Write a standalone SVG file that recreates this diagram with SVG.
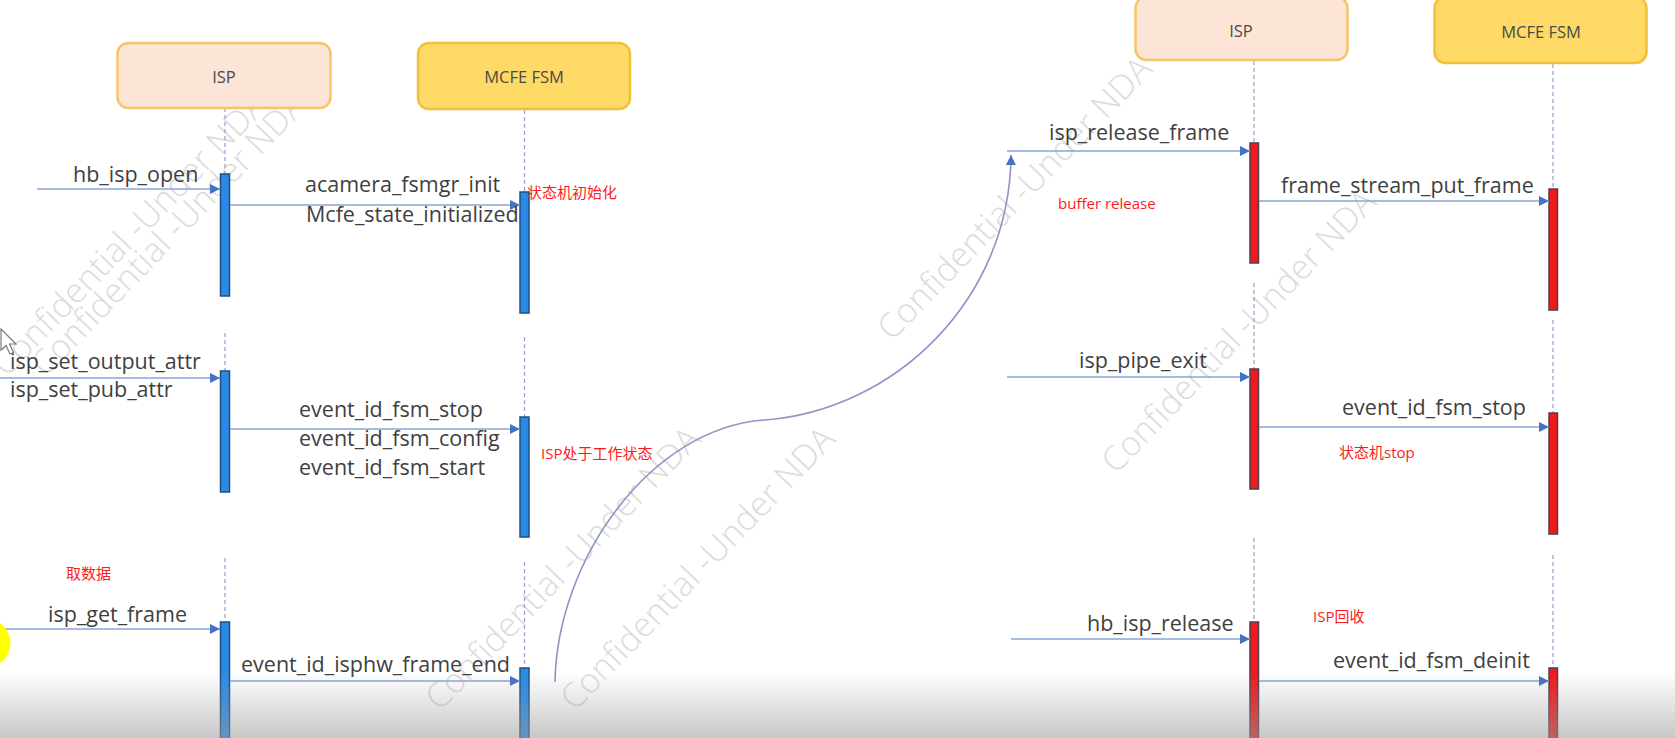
<svg xmlns="http://www.w3.org/2000/svg" width="1675" height="738" viewBox="0 0 1675 738">
<style>
.lbl{font-family:"Open Sans","Noto Sans",sans-serif;font-size:21.5px;fill:#3f3f3f}
.red{font-family:"Open Sans","Noto Sans CJK SC",sans-serif;font-size:15px;fill:#ff1a1a}
.hdr{font-family:"Open Sans","Noto Sans",sans-serif;font-size:16.5px;fill:#4a4a4a;text-anchor:middle}
.wm{font-family:"Open Sans","Noto Sans",sans-serif;font-size:34px;fill:#dcdcdc;font-weight:300}
.isp{fill:#fce5d6;stroke:#f7c46a;stroke-width:2.5}
.fsm{fill:#ffd966;stroke:#f2bf3c;stroke-width:2.5}
.life{stroke:#8fa2cf;stroke-width:1.2;stroke-dasharray:4 3;fill:none}
.bb{fill:#2a8be6;stroke:#1f4f80;stroke-width:1.5}
.rb{fill:#ee1b1b;stroke:#553a55;stroke-width:1.5}
.msg{stroke:#8aa3d8;stroke-width:1.6;fill:none}
</style>
<defs>
<marker id="ah" viewBox="0 0 10 10" refX="10" refY="5" markerWidth="10" markerHeight="11" markerUnits="userSpaceOnUse" orient="auto">
<path d="M0,0 L10,5 L0,10 z" fill="#4472c4"/>
</marker>
<linearGradient id="shade" x1="0" y1="0" x2="0" y2="1">
<stop offset="0" stop-color="#9a9a9a" stop-opacity="0"/>
<stop offset="1" stop-color="#9a9a9a" stop-opacity="0.55"/>
</linearGradient>
</defs>
<rect width="1675" height="738" fill="#ffffff"/>
<g id="watermarks">
<text class="wm" transform="translate(7,378) rotate(-46)">Confidential -Under NDA</text>
<text class="wm" transform="translate(46,378) rotate(-46)">Confidential -Under NDA</text>
<text class="wm" transform="translate(440,712) rotate(-46)">Confidential -Under NDA</text>
<text class="wm" transform="translate(575,712) rotate(-46)">Confidential -Under NDA</text>
<text class="wm" transform="translate(892,342) rotate(-46)">Confidential -Under NDA</text>
<text class="wm" transform="translate(1116,475) rotate(-46)">Confidential -Under NDA</text>
</g>
<g id="lifelines">
<path class="life" d="M225,108V174M225,333V371M225,558V622"/>
<path class="life" d="M524.5,110V192M524.5,337V417M524.5,562V668"/>
<path class="life" d="M1254,61V142M1254,283V369M1254,538V622"/>
<path class="life" d="M1553,64V188M1553,320V413M1553,555V668"/>
</g>
<g id="isp-left"><rect class="isp" x="117.5" y="43" width="213" height="65" rx="11"/><text class="hdr" x="224" y="83">ISP</text></g>
<g id="fsm-left"><rect class="fsm" x="418" y="43" width="212" height="66" rx="11"/><text class="hdr" x="524" y="83">MCFE FSM</text></g>
<g id="isp-right"><rect class="isp" x="1135.5" y="-3" width="212" height="63" rx="11"/><text class="hdr" x="1241" y="37">ISP</text></g>
<g id="fsm-right"><rect class="fsm" x="1434.5" y="-3" width="212" height="66" rx="11"/><text class="hdr" x="1541" y="38">MCFE FSM</text></g>
<g id="activations">
<rect class="bb" x="220.5" y="174" width="9" height="122"/>
<rect class="bb" x="520" y="192" width="9" height="121"/>
<rect class="bb" x="220.5" y="371" width="9" height="121"/>
<rect class="bb" x="520" y="417" width="9" height="120"/>
<rect class="bb" x="220.5" y="622" width="9" height="130"/>
<rect class="bb" x="520" y="668" width="9" height="84"/>
<rect class="rb" x="1250" y="143" width="8.5" height="120"/>
<rect class="rb" x="1549" y="189" width="8.5" height="121"/>
<rect class="rb" x="1250" y="369" width="8.5" height="120"/>
<rect class="rb" x="1549" y="413" width="8.5" height="121"/>
<rect class="rb" x="1250" y="622" width="8.5" height="130"/>
<rect class="rb" x="1549" y="668" width="8.5" height="84"/>
</g>
<g id="connectors">
<line class="msg" x1="37" y1="189" x2="220" y2="189" marker-end="url(#ah)"/>
<line class="msg" x1="230" y1="205" x2="520" y2="205" marker-end="url(#ah)"/>
<line class="msg" x1="0" y1="378" x2="220" y2="378" marker-end="url(#ah)"/>
<line class="msg" x1="230" y1="429" x2="520" y2="429" marker-end="url(#ah)"/>
<line class="msg" x1="0" y1="629" x2="220" y2="629" marker-end="url(#ah)"/>
<line class="msg" x1="230" y1="681" x2="520" y2="681" marker-end="url(#ah)"/>
<line class="msg" x1="1007" y1="151" x2="1250" y2="151" marker-end="url(#ah)"/>
<line class="msg" x1="1259" y1="201" x2="1549" y2="201" marker-end="url(#ah)"/>
<line class="msg" x1="1007" y1="377" x2="1250" y2="377" marker-end="url(#ah)"/>
<line class="msg" x1="1259" y1="427" x2="1549" y2="427" marker-end="url(#ah)"/>
<line class="msg" x1="1011" y1="639" x2="1250" y2="639" marker-end="url(#ah)"/>
<line class="msg" x1="1259" y1="681" x2="1549" y2="681" marker-end="url(#ah)"/>
<path d="M555,682 C557,560 650,428 765,420 C895,410 1010,300 1011,155" stroke="#8c95c6" stroke-width="1.6" fill="none" marker-end="url(#ah)"/>
</g>
<g id="labels">
<text class="lbl" x="73" y="182">hb_isp_open</text>
<text class="lbl" x="305" y="192">acamera_fsmgr_init</text>
<text class="lbl" x="306" y="222">Mcfe_state_initialized</text>
<text class="red" x="527" y="198">状态机初始化</text>
<text class="lbl" x="10" y="369">isp_set_output_attr</text>
<text class="lbl" x="10" y="397">isp_set_pub_attr</text>
<text class="lbl" x="299" y="417">event_id_fsm_stop</text>
<text class="lbl" x="299" y="446">event_id_fsm_config</text>
<text class="lbl" x="299" y="475">event_id_fsm_start</text>
<text class="red" x="541" y="459">ISP处于工作状态</text>
<text class="red" x="66" y="579">取数据</text>
<text class="lbl" x="48" y="622">isp_get_frame</text>
<text class="lbl" x="241" y="672">event_id_isphw_frame_end</text>
<text class="lbl" x="1049" y="140">isp_release_frame</text>
<text class="red" x="1058" y="209">buffer release</text>
<text class="lbl" x="1281" y="193">frame_stream_put_frame</text>
<text class="lbl" x="1079" y="368">isp_pipe_exit</text>
<text class="lbl" x="1342" y="415">event_id_fsm_stop</text>
<text class="red" x="1339" y="458">状态机stop</text>
<text class="lbl" x="1087" y="631">hb_isp_release</text>
<text class="red" x="1313" y="622">ISP回收</text>
<text class="lbl" x="1333" y="668">event_id_fsm_deinit</text>
</g>
<g id="overlay">
<circle cx="-14" cy="643" r="24.5" fill="#ffff00"/>
<path d="M1,329 L1,350 L6,345.5 L10,354 L13.5,352.5 L9.5,344 L16,344 Z" fill="#ffffff" stroke="#7a7a7a" stroke-width="1.2"/>
<rect x="0" y="672" width="1675" height="66" fill="url(#shade)"/>
</g>
</svg>
